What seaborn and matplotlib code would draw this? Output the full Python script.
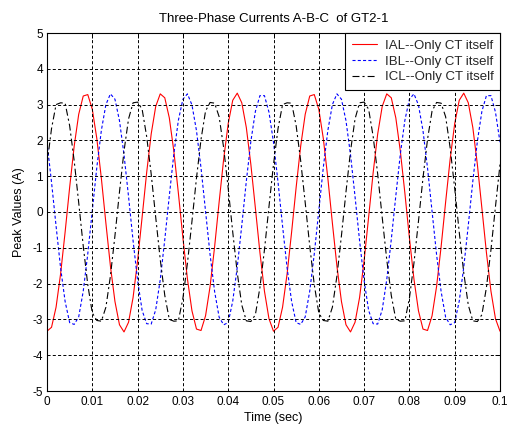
import numpy as np
import pandas as pd
import matplotlib
matplotlib.use("Agg")
import matplotlib.pyplot as plt
import seaborn as sns

# ---------------- data ----------------
time_s = [
    0.000, 0.001, 0.002, 0.003, 0.004, 0.005, 0.006, 0.007, 0.008, 0.009,
    0.010, 0.011, 0.012, 0.013, 0.014, 0.015, 0.016, 0.017, 0.018, 0.019,
    0.020, 0.021, 0.022, 0.023, 0.024, 0.025, 0.026, 0.027, 0.028, 0.029,
    0.030, 0.031, 0.032, 0.033, 0.034, 0.035, 0.036, 0.037, 0.038, 0.039,
    0.040, 0.041, 0.042, 0.043, 0.044, 0.045, 0.046, 0.047, 0.048, 0.049,
    0.050, 0.051, 0.052, 0.053, 0.054, 0.055, 0.056, 0.057, 0.058, 0.059,
    0.060, 0.061, 0.062, 0.063, 0.064, 0.065, 0.066, 0.067, 0.068, 0.069,
    0.070, 0.071, 0.072, 0.073, 0.074, 0.075, 0.076, 0.077, 0.078, 0.079,
    0.080, 0.081, 0.082, 0.083, 0.084, 0.085, 0.086, 0.087, 0.088, 0.089,
    0.090, 0.091, 0.092, 0.093, 0.094, 0.095, 0.096, 0.097, 0.098, 0.099,
    0.100,
]

ial = [
    -3.33, -3.22, -2.66, -1.73, -0.56, 0.69, 1.84, 2.73, 3.24, 3.28,
    2.87, 2.05, 0.94, -0.31, -1.51, -2.50, -3.15, -3.35, -3.08, -2.39,
    -1.36, -0.14, 1.10, 2.18, 2.95, 3.30, 3.19, 2.63, 1.70, 0.53,
    -0.72, -1.87, -2.76, -3.27, -3.31, -2.90, -2.08, -0.97, 0.28, 1.48,
    2.47, 3.12, 3.32, 3.05, 2.36, 1.33, 0.11, -1.13, -2.21, -2.98,
    -3.33, -3.22, -2.66, -1.73, -0.56, 0.69, 1.84, 2.73, 3.24, 3.28,
    2.87, 2.05, 0.94, -0.31, -1.51, -2.50, -3.15, -3.35, -3.08, -2.39,
    -1.36, -0.14, 1.10, 2.18, 2.95, 3.30, 3.19, 2.63, 1.70, 0.53,
    -0.72, -1.87, -2.76, -3.27, -3.31, -2.90, -2.08, -0.97, 0.28, 1.48,
    2.47, 3.12, 3.32, 3.05, 2.36, 1.33, 0.11, -1.13, -2.21, -2.98,
    -3.33,
]

ibl = [
    1.95, 0.83, -0.39, -1.56, -2.50, -3.09, -3.14, -2.93, -2.21, -1.17,
    0.04, 1.25, 2.28, 3.00, 3.30, 3.15, 2.55, 1.60, 0.43, -0.80,
    -1.91, -2.75, -3.12, -3.13, -2.73, -1.89, -0.77, 0.45, 1.62, 2.56,
    3.15, 3.30, 2.99, 2.27, 1.23, 0.02, -1.19, -2.22, -2.94, -3.15,
    -3.09, -2.49, -1.54, -0.37, 0.86, 1.97, 2.81, 3.25, 3.25, 2.79,
    1.95, 0.83, -0.39, -1.56, -2.50, -3.09, -3.14, -2.93, -2.21, -1.17,
    0.04, 1.25, 2.28, 3.00, 3.30, 3.15, 2.55, 1.60, 0.43, -0.80,
    -1.91, -2.75, -3.12, -3.13, -2.73, -1.89, -0.77, 0.45, 1.62, 2.56,
    3.15, 3.30, 2.99, 2.27, 1.23, 0.02, -1.19, -2.22, -2.94, -3.15,
    -3.09, -2.49, -1.54, -0.37, 0.86, 1.97, 2.81, 3.25, 3.25, 2.79,
    1.95,
]

icl = [
    1.33, 2.33, 3.00, 3.05, 3.04, 2.41, 1.43, 0.26, -0.95, -2.03,
    -2.82, -3.03, -3.05, -2.66, -1.79, -0.66, 0.56, 1.70, 2.60, 3.05,
    3.07, 2.87, 2.11, 1.06, -0.15, -1.33, -2.33, -3.00, -3.05, -3.04,
    -2.41, -1.43, -0.26, 0.95, 2.03, 2.82, 3.06, 3.04, 2.66, 1.79,
    0.66, -0.56, -1.70, -2.60, -3.04, -3.06, -2.87, -2.11, -1.06, 0.15,
    1.33, 2.33, 3.00, 3.05, 3.04, 2.41, 1.43, 0.26, -0.95, -2.03,
    -2.82, -3.03, -3.05, -2.66, -1.79, -0.66, 0.56, 1.70, 2.60, 3.05,
    3.07, 2.87, 2.11, 1.06, -0.15, -1.33, -2.33, -3.00, -3.05, -3.04,
    -2.41, -1.43, -0.26, 0.95, 2.03, 2.82, 3.06, 3.04, 2.66, 1.79,
    0.66, -0.56, -1.70, -2.60, -3.04, -3.06, -2.87, -2.11, -1.06, 0.15,
    1.33,
]

series_labels = ["IAL--Only CT itself", "IBL--Only CT itself", "ICL--Only CT itself"]
x_ticks = [0, 0.01, 0.02, 0.03, 0.04, 0.05, 0.06, 0.07, 0.08, 0.09, 0.1]
x_tick_labels = ["0", "0.01", "0.02", "0.03", "0.04", "0.05", "0.06", "0.07", "0.08", "0.09", "0.1"]
y_ticks = [-5, -4, -3, -2, -1, 0, 1, 2, 3, 4, 5]

title_text = "Three-Phase Currents A-B-C  of GT2-1"
x_label = "Time (sec)"
y_label = "Peak Values (A)"

# ---------------- style ----------------
sns.set_theme(style="white")
plt.rcParams["font.family"] = ["Liberation Sans", "DejaVu Sans"]
plt.rcParams["lines.scale_dashes"] = False
plt.rcParams["axes.unicode_minus"] = False

W, H = 508, 425
fig = plt.figure(figsize=(W / 100, H / 100), dpi=100)
fig.patch.set_facecolor("white")
ax = fig.add_axes([47 / W, 1 - 391 / H, (500 - 47) / W, (391 - 33) / H])
ax.set_facecolor("white")

df = pd.DataFrame({"t": time_s, "IAL": ial, "IBL": ibl, "ICL": icl})

styles = [
    ("IAL", series_labels[0], "#ff0000", "-"),
    ("IBL", series_labels[1], "#0000ff", (0, (2.2, 1.6))),
    ("ICL", series_labels[2], "#000000", (0, (5.0, 2.2, 1.5, 2.2))),
]
for col, lab, colr, ls in styles:
    sns.lineplot(data=df, x="t", y=col, ax=ax, color=colr, linestyle=ls,
                 linewidth=0.8, label=lab, estimator=None, sort=False,
                 errorbar=None)

ax.set_xlim(0, 0.1)
ax.set_ylim(-5, 5)
ax.set_xticks(x_ticks)
ax.set_xticklabels(x_tick_labels)
ax.set_yticks(y_ticks)
ax.set_yticklabels([str(v) for v in y_ticks])

ax.grid(True, color="black", linestyle=(0, (2.2, 1.6)), linewidth=0.7)
ax.set_axisbelow(False)
for sp in ax.spines.values():
    sp.set_visible(True)
    sp.set_color("black")
    sp.set_linewidth(0.8)

ax.tick_params(axis="both", direction="in", top=True, right=True, length=3.5,
               width=0.7, colors="black", labelsize=8.5)
ax.tick_params(axis="x", pad=3.5)
ax.tick_params(axis="y", pad=3)

ax.set_title(title_text, fontsize=9.5, pad=8, color="black")
ax.set_xlabel(x_label, fontsize=9, labelpad=3, color="black")
ax.set_ylabel(y_label, fontsize=9, labelpad=5, color="black")

leg = ax.legend(loc="upper right", fontsize=9.5, frameon=True, fancybox=False,
                borderaxespad=0.0, handlelength=1.9, handletextpad=0.6,
                labelspacing=0.26, borderpad=0.5, framealpha=1.0)
leg.get_frame().set_edgecolor("black")
leg.get_frame().set_linewidth(0.8)
leg.get_frame().set_facecolor("white")

fig.savefig("out.png", dpi=100, facecolor="white")
